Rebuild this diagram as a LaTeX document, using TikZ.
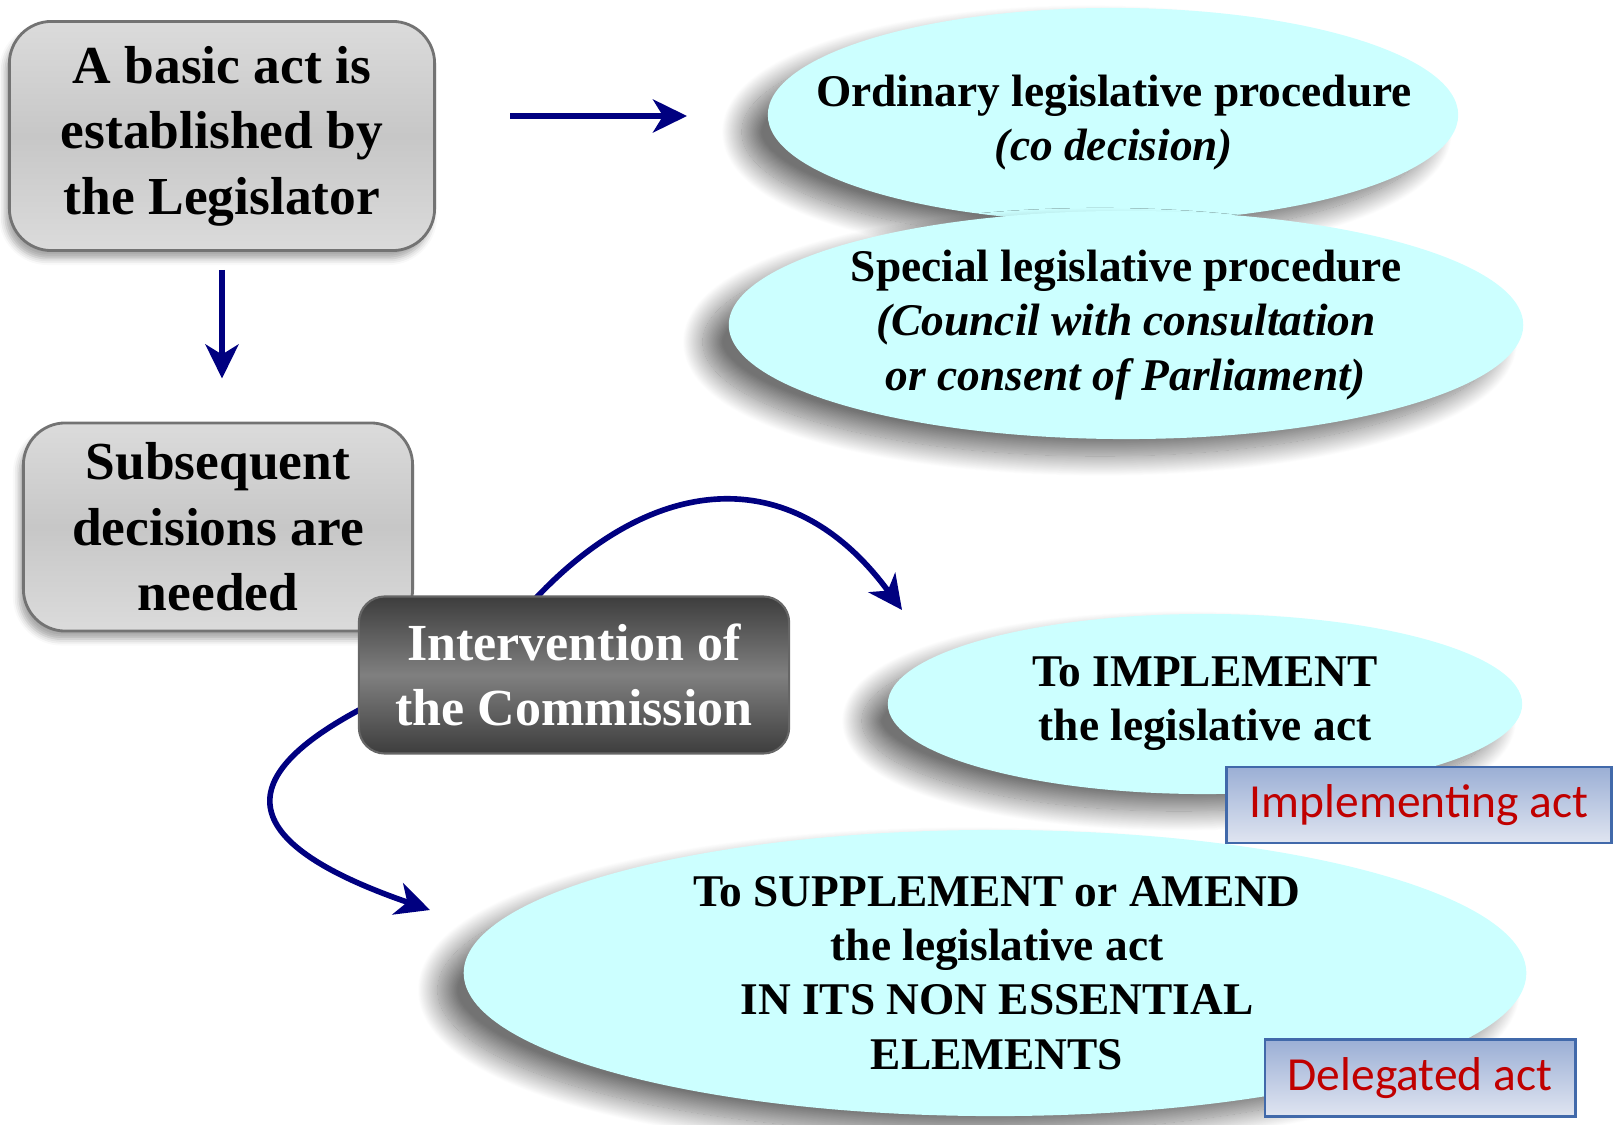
\documentclass[tikz,border=0pt]{standalone}
\usepackage{fontspec}
\setmainfont{Liberation Serif}
\newfontfamily\tagfont{Carlito}
\usetikzlibrary{calc,shapes.geometric,shadows.blur,arrows.meta}

\definecolor{navyline}{RGB}{0,0,128}
\definecolor{palecyan}{RGB}{204,255,255}
\definecolor{tagred}{RGB}{192,0,0}
\definecolor{tagedge}{RGB}{65,105,170}
\definecolor{tagtop}{RGB}{155,175,213}
\definecolor{tagbot}{RGB}{224,229,241}

\begin{document}
\begin{tikzpicture}[x=0.01cm,y=-0.01cm,
  actbox/.style={rectangle, rounded corners=0.42cm, draw=black!55, line width=0.8pt,
    top color=black!14, bottom color=black!14, middle color=black!22,
    align=center, inner sep=0pt, font=\bfseries\fontsize{15.2}{18.6}\selectfont,
    blur shadow={shadow xshift=-0.04cm, shadow yshift=-0.08cm, shadow opacity=35}},
  commbox/.style={rectangle, rounded corners=0.26cm, draw=black!60, line width=0.6pt,
    top color=black!76, bottom color=black!76, middle color=black!50,
    text=white, align=center, inner sep=0pt, font=\bfseries\fontsize{14.8}{18.4}\selectfont},
  procell/.style={ellipse, fill=palecyan, draw=none, inner sep=0pt,
    blur shadow={shadow xshift=-0.26cm, shadow yshift=-0.17cm, shadow opacity=55,
      shadow blur radius=0.2cm, shadow blur steps=30}},
  proctext/.style={align=center, inner sep=0pt, font=\bfseries\fontsize{12.9}{15.4}\selectfont},
  tagbox/.style={rectangle, draw=tagedge, line width=0.8pt, top color=tagtop,
    bottom color=tagbot, text=tagred, inner sep=0pt,
    font=\tagfont\fontsize{13.5}{16}\selectfont},
  flow/.style={draw=navyline, line width=1.6pt,
    -{Stealth[length=0.34cm, width=0.33cm, inset=0.1cm]}}]

  \useasboundingbox (0,0) rectangle (1616,1125);

  % procedures on the right
  \node [procell, minimum width=6.9cm, minimum height=2.14cm] (ordinary) at (1113,115) {};
  \node [proctext] (ordinarytxt) at (1114,123)
    {Ordinary legislative procedure\\\textit{(co decision)}};
  \node [procell, minimum width=7.94cm, minimum height=2.28cm] (special) at (1126,325) {};
  \node [proctext] (specialtxt) at (special)
    {Special legislative procedure\\\textit{(Council with consultation}\\\textit{or consent of Parliament)}};

  % legislator side
  \node [actbox, minimum width=4.25cm, minimum height=2.29cm] (basic) at (222,136)
    {A basic act is\\established by\\the Legislator};
  \node [actbox, minimum width=3.89cm, minimum height=2.08cm] (needed) at (218,527)
    {Subsequent\\decisions are\\needed};

  \coordinate (ordin)  at (510,116);
  \coordinate (ordout) at (687,116);
  \draw [flow] (ordin) -- (ordout);
  \draw [flow] ([yshift=-0.18cm]basic.south) -- ([yshift=0.43cm]basic.south |- needed.north);

  % what the Commission does
  \node [procell, minimum width=6.34cm, minimum height=1.8cm] (implement) at (1205,704) {};
  \node [proctext] (implementtxt) at (implement) {To IMPLEMENT\\the legislative act};
  \node [procell, minimum width=10.62cm, minimum height=2.86cm] (supplement) at (995,973) {};
  \node [proctext] (supplementtxt) at (997,973)
    {To SUPPLEMENT or AMEND\\the legislative act\\IN ITS NON ESSENTIAL\\ELEMENTS};

  \node [tagbox, minimum width=3.85cm, minimum height=0.76cm] (impltag) at (1419,805)
    {Implementing act};
  \node [tagbox, minimum width=3.1cm, minimum height=0.77cm] (deltag) at (1420,1078)
    {Delegated act};

  \coordinate (upend)  at (902,610);
  \coordinate (lowend) at (430,910);
  \draw [flow] (536,598) .. controls (650,477) and (790,457) .. (upend);
  \draw [flow] (361,709) .. controls (237,775) and (227,840) .. (lowend);

  % box on top of the curve starts
  \node [commbox, minimum width=4.3cm, minimum height=1.57cm] (comm) at (574,675)
    {Intervention of\\the Commission};

\end{tikzpicture}
\end{document}
